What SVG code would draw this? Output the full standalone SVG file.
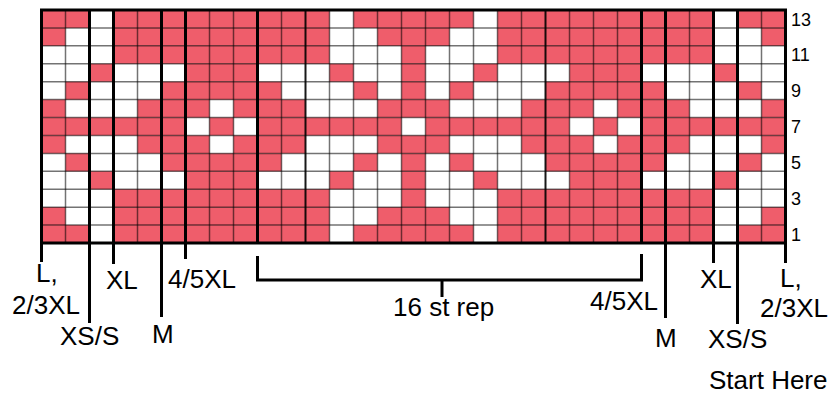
<svg xmlns="http://www.w3.org/2000/svg" width="835" height="401" viewBox="0 0 835 401">
<style>
.r{fill:#EF5D6B}
.thin{stroke:#000;stroke-opacity:0.55;stroke-width:1.5;fill:none}
.med{stroke:#000;stroke-opacity:0.9;stroke-width:2;fill:none}
.thick{stroke:#000;stroke-width:3;fill:none}
text{font-family:"Liberation Sans",Arial,Helvetica,sans-serif;fill:#000}
.lb{font-size:26px}
.num{font-size:18px}
</style>
<defs>
<g id="r13"><rect class="r" x="41.5" width="48" height="17.92"/><rect class="r" x="113.5" width="216" height="17.92"/><rect class="r" x="353.5" width="120" height="17.92"/><rect class="r" x="497.5" width="216" height="17.92"/><rect class="r" x="737.5" width="48" height="17.92"/></g>
<g id="r12"><rect class="r" x="41.5" width="24" height="17.92"/><rect class="r" x="113.5" width="216" height="17.92"/><rect class="r" x="377.5" width="72" height="17.92"/><rect class="r" x="497.5" width="216" height="17.92"/><rect class="r" x="761.5" width="24" height="17.92"/></g>
<g id="r11"><rect class="r" x="113.5" width="216" height="17.92"/><rect class="r" x="401.5" width="24" height="17.92"/><rect class="r" x="497.5" width="216" height="17.92"/></g>
<g id="r10"><rect class="r" x="89.5" width="24" height="17.92"/><rect class="r" x="185.5" width="72" height="17.92"/><rect class="r" x="329.5" width="24" height="17.92"/><rect class="r" x="401.5" width="24" height="17.92"/><rect class="r" x="473.5" width="24" height="17.92"/><rect class="r" x="569.5" width="72" height="17.92"/><rect class="r" x="713.5" width="24" height="17.92"/></g>
<g id="r9"><rect class="r" x="65.5" width="24" height="17.92"/><rect class="r" x="161.5" width="120" height="17.92"/><rect class="r" x="353.5" width="24" height="17.92"/><rect class="r" x="401.5" width="24" height="17.92"/><rect class="r" x="449.5" width="24" height="17.92"/><rect class="r" x="545.5" width="120" height="17.92"/><rect class="r" x="737.5" width="24" height="17.92"/></g>
<g id="r8"><rect class="r" x="41.5" width="24" height="17.92"/><rect class="r" x="137.5" width="72" height="17.92"/><rect class="r" x="233.5" width="72" height="17.92"/><rect class="r" x="377.5" width="72" height="17.92"/><rect class="r" x="521.5" width="72" height="17.92"/><rect class="r" x="617.5" width="72" height="17.92"/><rect class="r" x="761.5" width="24" height="17.92"/></g>
<g id="r7"><rect class="r" x="41.5" width="144" height="17.92"/><rect class="r" x="209.5" width="24" height="17.92"/><rect class="r" x="257.5" width="144" height="17.92"/><rect class="r" x="425.5" width="144" height="17.92"/><rect class="r" x="593.5" width="24" height="17.92"/><rect class="r" x="641.5" width="144" height="17.92"/></g>
</defs>
<g id="chart">
<rect x="41.5" y="10" width="744" height="233" fill="#fff"/>
<use href="#r13" y="10"/>
<use href="#r12" y="27.92"/>
<use href="#r11" y="45.85"/>
<use href="#r10" y="63.77"/>
<use href="#r9" y="81.69"/>
<use href="#r8" y="99.62"/>
<use href="#r7" y="117.54"/>
<use href="#r8" y="135.46"/>
<use href="#r9" y="153.38"/>
<use href="#r10" y="171.31"/>
<use href="#r11" y="189.23"/>
<use href="#r12" y="207.15"/>
<use href="#r13" y="225.08"/>
<path class="thin" d="M65.5 10V243M137.5 10V243M209.5 10V243M233.5 10V243M281.5 10V243M329.5 10V243M353.5 10V243M377.5 10V243M401.5 10V243M425.5 10V243M449.5 10V243M473.5 10V243M497.5 10V243M521.5 10V243M569.5 10V243M593.5 10V243M617.5 10V243M689.5 10V243M761.5 10V243"/>
<path class="thin" d="M41.5 27.92H785.5M41.5 45.85H785.5M41.5 63.77H785.5M41.5 81.69H785.5M41.5 99.62H785.5M41.5 117.54H785.5M41.5 135.46H785.5M41.5 153.38H785.5M41.5 171.31H785.5M41.5 189.23H785.5M41.5 207.15H785.5M41.5 225.08H785.5"/>
<path class="med" d="M305.5 10V243M545.5 10V243"/>
<rect class="thick" x="41.5" y="10" width="744" height="233"/>
</g>
<g id="row-numbers" class="num">
<text class="num" x="791" y="25.5">13</text>
<text class="num" x="791" y="61.4">11</text>
<text class="num" x="791" y="97.2">9</text>
<text class="num" x="791" y="133">7</text>
<text class="num" x="791" y="168.9">5</text>
<text class="num" x="791" y="204.7">3</text>
<text class="num" x="791" y="240.6">1</text>
</g>
<g id="connectors">
<path class="thick" d="M41.5 10V262M89.5 10V323M113.5 10V264M161.5 10V317M185.5 10V259M257.5 10V243M641.5 10V243M665.5 10V318M713.5 10V263M737.5 10V324M785.5 10V263"/>
<path class="thick" d="M257.5 256V280H641.5V254"/>
<path class="thick" d="M442 280V297"/>
</g>
<g id="labels-left">
<text class="lb" x="36" y="282">L,</text>
<text class="lb" x="12" y="314">2/3XL</text>
<text class="lb" x="60" y="345">XS/S</text>
<text class="lb" x="106" y="289">XL</text>
<text class="lb" x="152" y="343">M</text>
<text class="lb" x="168" y="288">4/5XL</text>
</g>
<g id="label-rep">
<text class="lb" x="393" y="316">16 st rep</text>
</g>
<g id="labels-right">
<text class="lb" x="590" y="310">4/5XL</text>
<text class="lb" x="655" y="347">M</text>
<text class="lb" x="700" y="288">XL</text>
<text class="lb" x="708" y="348">XS/S</text>
<text class="lb" x="780" y="287">L,</text>
<text class="lb" x="760" y="317">2/3XL</text>
<text class="lb" x="709" y="389">Start Here</text>
</g>
</svg>
